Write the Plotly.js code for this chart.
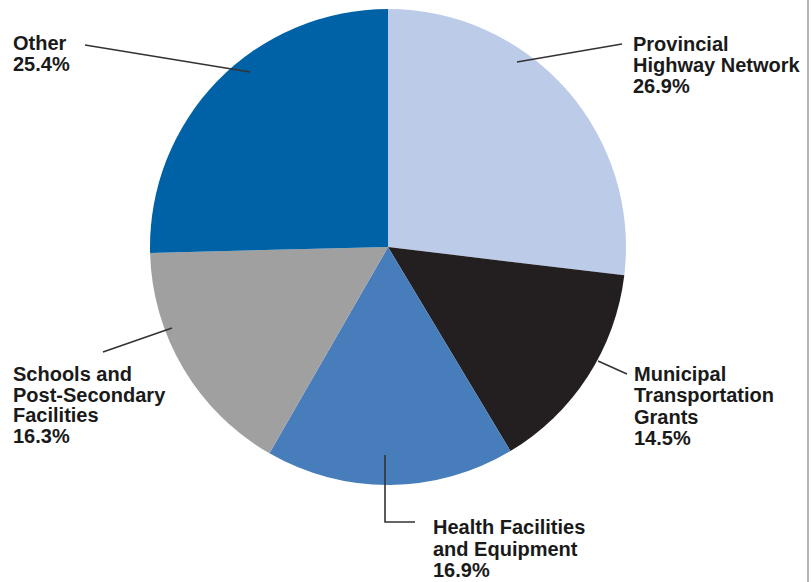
<!DOCTYPE html>
<html>
<head>
<meta charset="utf-8">
<script src="https://cdn.plot.ly/plotly-3.0.1.min.js"></script>
<style>html,body{margin:0;padding:0;background:#fff;}#chart{width:811px;height:582px;}</style>
</head>
<body>
<div id="chart"></div>
<script>
// Data
const categories = ["Provincial Highway Network", "Municipal Transportation Grants", "Health Facilities and Equipment", "Schools and Post-Secondary Facilities", "Other"];
const shares = [26.9, 14.5, 16.9, 16.3, 25.4];
const sliceColors = ["#bccbe8", "#231f20", "#467dba", "#a0a0a0", "#0062a6"];
// Label lines (as drawn in the reference)
const labelLines = [
  ["Provincial", "Highway Network", "26.9%"],
  ["Municipal", "Transportation", "Grants", "14.5%"],
  ["Health Facilities", "and Equipment", "16.9%"],
  ["Schools and", "Post-Secondary", "Facilities", "16.3%"],
  ["Other", "25.4%"]
];

const W = 811, H = 582;
const px = x => x / W;
const py = y => 1 - y / H;

// label layout: left x, first line center y, pitch
const labelPos = [
  {x: 632, y: 44, pitch: 21},
  {x: 633, y: 374, pitch: 21.3},
  {x: 432, y: 527, pitch: 21.5},
  {x: 12, y: 374, pitch: 20.5},
  {x: 12, y: 43, pitch: 21}
];
// leader lines (paths in pixel coords)
const leaders = [
  [[517, 62], [622, 44]],
  [[598, 361], [627, 374]],
  [[385, 455], [385, 522], [415, 522]],
  [[172, 328], [103, 352]],
  [[250, 72], [85, 45]]
];

const annotations = [];
labelLines.forEach((lines, i) => {
  const p = labelPos[i];
  lines.forEach((t, j) => {
    annotations.push({
      xref: 'paper', yref: 'paper',
      x: px(p.x), y: py(p.y + j * p.pitch),
      xanchor: 'left', yanchor: 'middle',
      text: t, showarrow: false,
      font: {family: 'Liberation Sans, Arial, sans-serif', size: 20, color: '#1a1a1a', weight: 'bold'},
      borderpad: 0
    });
  });
});

const shapes = leaders.map(pts => ({
  type: 'path', xref: 'paper', yref: 'paper',
  path: 'M ' + pts.map(p => px(p[0]) + ',' + py(p[1])).join(' L '),
  line: {color: '#333333', width: 1.6}
}));
// scan border line on the right edge
shapes.push({type: 'line', xref: 'paper', yref: 'paper', x0: px(808), x1: px(808), y0: 0, y1: 1, line: {color: '#b5b5b5', width: 2}});

const data = [{
  type: 'pie',
  labels: categories,
  values: shares,
  sort: false,
  direction: 'clockwise',
  rotation: 0,
  marker: {colors: sliceColors, line: {width: 0}},
  textinfo: 'none',
  hoverinfo: 'none',
  showlegend: false,
  domain: {x: [px(150), px(626)], y: [py(485), py(9)]}
}];

const layout = {
  width: W, height: H,
  margin: {l: 0, r: 0, t: 0, b: 0},
  paper_bgcolor: '#ffffff',
  showlegend: false,
  annotations: annotations,
  shapes: shapes
};

Plotly.newPlot('chart', data, layout, {staticPlot: true, displayModeBar: false});
</script>
</body>
</html>
